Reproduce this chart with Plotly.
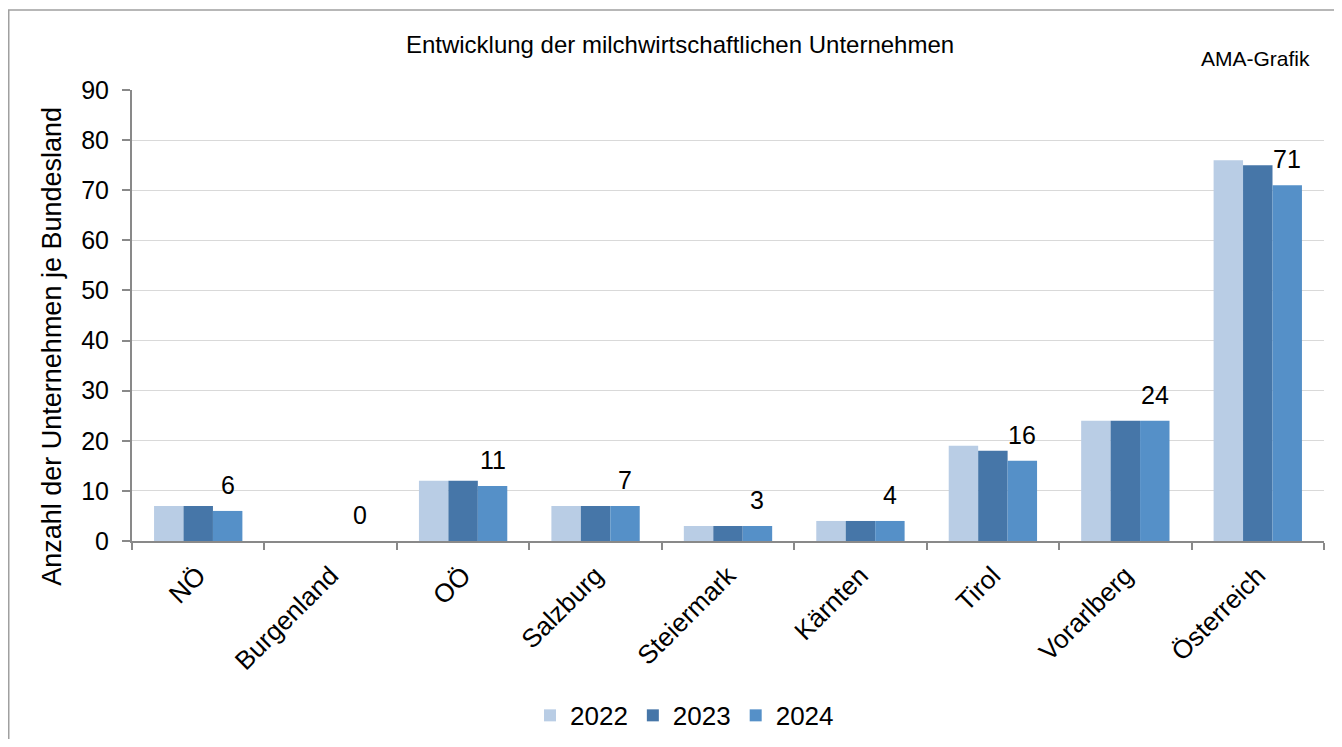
import plotly.graph_objects as go

regions = ['NÖ', 'Burgenland', 'OÖ', 'Salzburg', 'Steiermark', 'Kärnten', 'Tirol', 'Vorarlberg', 'Österreich']
y2022 = [7, 0, 12, 7, 3, 4, 19, 24, 76]
y2023 = [7, 0, 12, 7, 3, 4, 18, 24, 75]
y2024 = [6, 0, 11, 7, 3, 4, 16, 24, 71]

FONT = 'Liberation Sans, Arial, sans-serif'
colors = {'2022': '#B9CDE5', '2023': '#4676A8', '2024': '#5590C8'}

# page body has an 8px margin on every side, so keep the figure inside the window
W, H = 1326, 731
L, T = 124, 82          # plot area origin inside the figure
PW, PH = 1192, 451.4    # plot area size

fig = go.Figure()
for name, vals in [('2022', y2022), ('2023', y2023), ('2024', y2024)]:
    fig.add_trace(go.Bar(x=regions, y=vals, name=name,
                         marker=dict(color=colors[name], line=dict(width=0))))

# data labels on the 2024 bars only
for reg, v in zip(regions, y2024):
    fig.add_annotation(x=reg, y=v, text=str(v), showarrow=False,
                       xshift=29.4, yshift=10, yanchor='bottom',
                       font=dict(size=25, color='black', family=FONT))

fig.add_annotation(xref='paper', yref='paper', x=(1247 - L) / PW, y=1 + (T - 50.7) / PH,
                   text='AMA-Grafik', showarrow=False, xanchor='center', yanchor='middle',
                   font=dict(size=21, color='black', family=FONT))

# y axis title (sits lower than the plot centre in the original)
fig.add_annotation(xref='paper', yref='paper', x=(44 - L) / PW, y=1 - (339 - T) / PH,
                   text='Anzahl der Unternehmen je Bundesland', textangle=-90,
                   showarrow=False, xanchor='center', yanchor='middle',
                   font=dict(size=27, color='black', family=FONT))

# outer frame
fig.add_shape(type='rect', xref='paper', yref='paper',
              x0=(0.75 - L) / PW, x1=1.2, y0=-0.6, y1=1 + (T - 2) / PH,
              line=dict(color='#A0A0A0', width=1.5), fillcolor='rgba(0,0,0,0)', layer='below')

fig.update_layout(
    width=W, height=H,
    margin=dict(l=L, r=W - L - PW, t=T, b=H - T - PH, autoexpand=False),
    paper_bgcolor='white', plot_bgcolor='white',
    font=dict(family=FONT, color='black'),
    title=dict(text='Entwicklung der milchwirtschaftlichen Unternehmen',
               x=672 / W, xanchor='center', y=1 - 37 / H, yanchor='middle',
               font=dict(size=24, color='black', family=FONT)),
    barmode='group', bargap=0.333, bargroupgap=0,
    legend=dict(orientation='h', x=(676.5 - L) / PW, xanchor='center',
                y=(T + PH - 708) / PH, yanchor='middle',
                font=dict(size=26, color='black', family=FONT), itemwidth=30),
    showlegend=True,
)
fig.update_xaxes(
    showline=True, linecolor='#898989', linewidth=2, automargin=False,
    ticks='outside', tickson='boundaries', ticklen=7, tickcolor='#898989', tickwidth=1.5,
    tickangle=-45, tickfont=dict(size=26, color='black', family=FONT), ticklabelstandoff=7,
    showgrid=False,
)
fig.update_yaxes(
    range=[0, 90], dtick=10, automargin=False,
    showline=True, linecolor='#898989', linewidth=2,
    ticks='outside', ticklen=8, tickcolor='#898989', tickwidth=1.5,
    tickfont=dict(size=25, color='black', family=FONT), ticklabelstandoff=8,
    gridcolor='#D9D9D9', gridwidth=1, zeroline=False,
)

fig.write_html("out.html")
